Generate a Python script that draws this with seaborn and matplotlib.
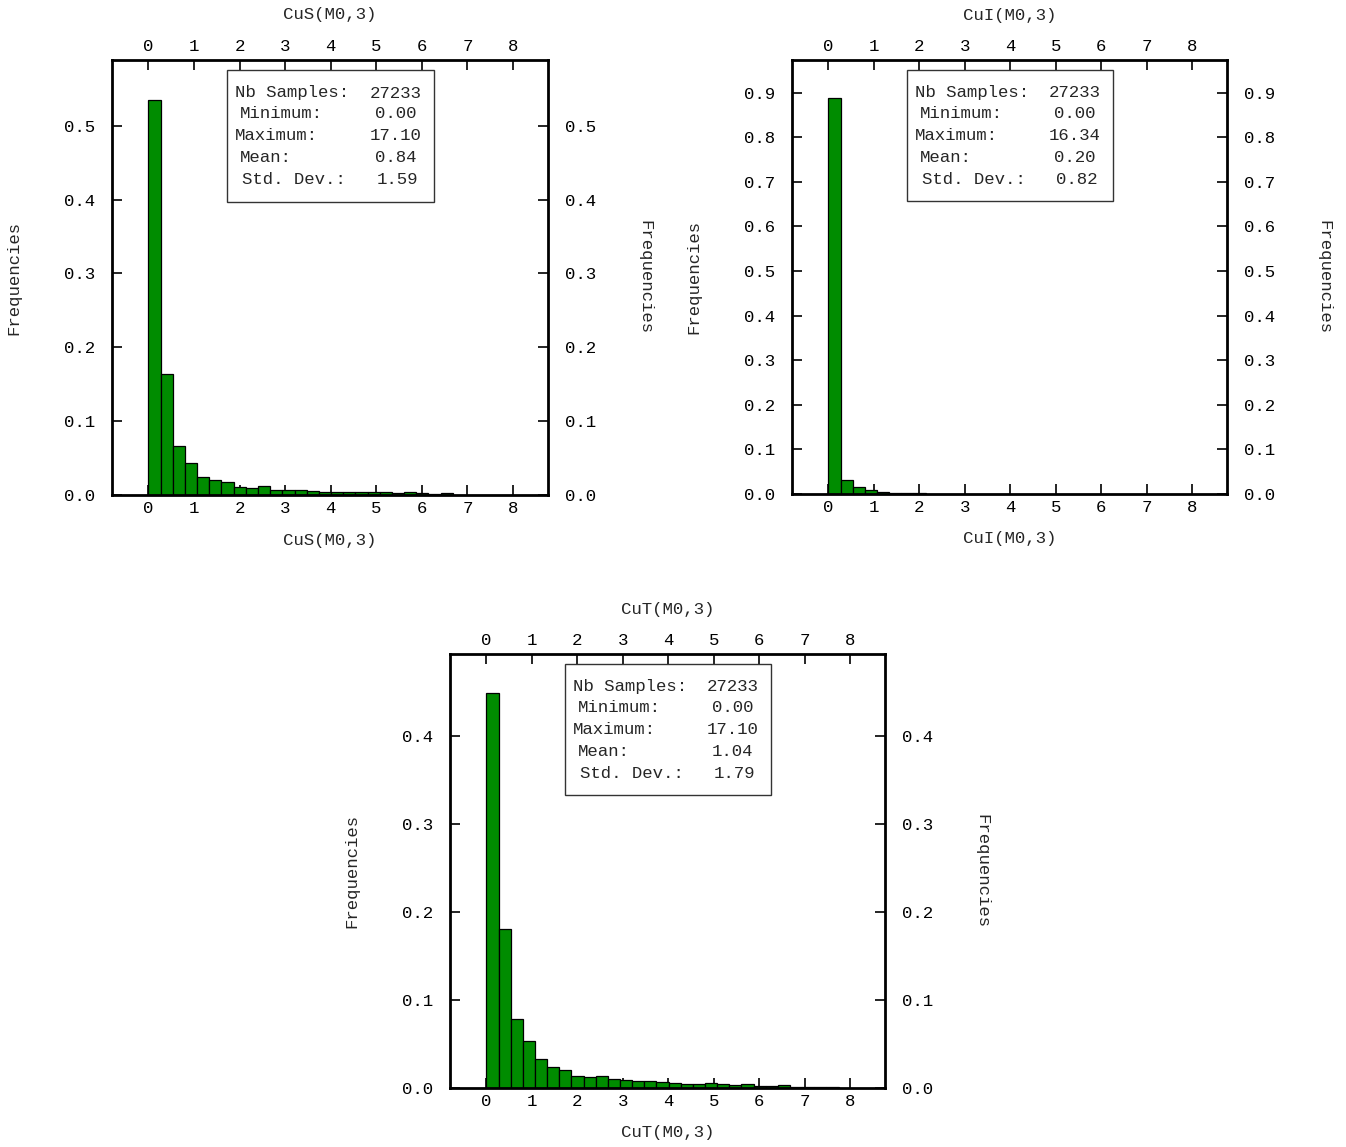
import numpy as np
import pandas as pd
import matplotlib
matplotlib.use("Agg")
import matplotlib.pyplot as plt
from matplotlib.patches import Rectangle
import seaborn as sns

# ---------------- data ----------------
bin_width = 17.10 / 64

cus_freq = [0.535, 0.164, 0.067, 0.044, 0.025, 0.020, 0.017, 0.011, 0.010, 0.012,
            0.007, 0.007, 0.007, 0.0054, 0.004, 0.004, 0.004, 0.004, 0.004, 0.004,
            0.003, 0.004, 0.0027, 0.001, 0.0025]
cui_freq = [0.888, 0.032, 0.016, 0.010, 0.0054, 0.002, 0.002, 0.002]
cut_freq = [0.449, 0.181, 0.078, 0.053, 0.033, 0.024, 0.021, 0.014, 0.013, 0.014,
            0.010, 0.0087, 0.0084, 0.0084, 0.0072, 0.0057, 0.0042, 0.0042, 0.0057, 0.0042,
            0.003, 0.0042, 0.0019, 0.0019, 0.003, 0.0015, 0.0015, 0.0015, 0.0015]

variables = ["CuS(M0,3)", "CuI(M0,3)", "CuT(M0,3)"]
stat_labels = ["Nb Samples:", "Minimum:", "Maximum:", "Mean:", "Std. Dev.:"]
cus_stats = ["27233", "0.00", "17.10", "0.84", "1.59"]
cui_stats = ["27233", "0.00", "16.34", "0.20", "0.82"]
cut_stats = ["27233", "0.00", "17.10", "1.04", "1.79"]

x_ticks = [0, 1, 2, 3, 4, 5, 6, 7, 8]
cus_yticks = [0.0, 0.1, 0.2, 0.3, 0.4, 0.5]
cui_yticks = [0.0, 0.1, 0.2, 0.3, 0.4, 0.5, 0.6, 0.7, 0.8, 0.9]
cut_yticks = [0.0, 0.1, 0.2, 0.3, 0.4]
ylims = [0.589, 0.973, 0.493]

# ---------------- style ----------------
sns.set_style("white")
plt.rcParams['font.family'] = ['Liberation Mono', 'DejaVu Sans Mono']
FS = 12.5
GREEN = "#008C00"

W, H = 1346, 1147
fig = plt.figure(figsize=(W / 100, H / 100), dpi=100)
fig.patch.set_facecolor("white")

def px_axes(x0, y0, x1, y1):
    return fig.add_axes([x0 / W, 1 - y1 / H, (x1 - x0) / W, (y1 - y0) / H])

axes = [px_axes(112, 60, 548, 495), px_axes(792, 60, 1227, 494), px_axes(450, 654, 885, 1088)]
freqs = [cus_freq, cui_freq, cut_freq]
stats = [cus_stats, cui_stats, cut_stats]
yticks = [cus_yticks, cui_yticks, cut_yticks]

for ax, fr, st, yt, yl, var in zip(axes, freqs, stats, yticks, ylims, variables):
    n = len(fr)
    centers = (np.arange(n) + 0.5) * bin_width
    df = pd.DataFrame({"x": centers, "w": fr})
    sns.histplot(data=df, x="x", weights="w", binwidth=bin_width,
                 binrange=(0, n * bin_width), ax=ax, color=GREEN,
                 edgecolor="black", linewidth=0.9, alpha=1.0)
    ax.set_xlim(-0.8, 8.77)
    ax.set_ylim(0, yl)
    ax.set_xticks(x_ticks)
    ax.set_xticklabels([str(t) for t in x_ticks])
    ax.set_yticks(yt)
    ax.set_yticklabels([f"{t:.1f}" for t in yt])
    ax.set_xlabel("")
    ax.set_ylabel("")
    for sp in ax.spines.values():
        sp.set_visible(True)
        sp.set_linewidth(2.0)
        sp.set_color("black")
    ax.tick_params(axis="x", which="both", direction="in", length=7, width=1.2,
                   top=True, bottom=True, labeltop=True, labelbottom=True,
                   labelsize=FS, pad=4, colors="black")
    ax.tick_params(axis="y", which="both", direction="in", length=7, width=1.2,
                   left=True, right=True, labelleft=True, labelright=True,
                   labelsize=FS, pad=12, colors="black")
    ax.grid(False)

    # axis titles
    ax.text(0.5, 1 + 45 / 435, var, transform=ax.transAxes, ha="center", va="center", fontsize=FS)
    ax.text(0.5, -45 / 435, var, transform=ax.transAxes, ha="center", va="center", fontsize=FS)
    ax.text(-98 / 436, 0.5, "Frequencies", transform=ax.transAxes, ha="center", va="center",
            rotation=90, fontsize=FS)
    ax.text(1 + 97 / 436, 0.5, "Frequencies", transform=ax.transAxes, ha="center", va="center",
            rotation=270, fontsize=FS)

    # statistics box
    bx0, bx1, by0, by1 = 0.264, 0.739, 0.674, 0.977
    ax.add_patch(Rectangle((bx0, by0), bx1 - bx0, by1 - by0, transform=ax.transAxes,
                           facecolor="white", edgecolor="#333333", linewidth=1.0, zorder=5))
    line_y = [93, 114, 136, 158, 180]
    lab_off = [8, 13, 8, 13, 15]
    val_off = [13, 18, 13, 18, 16]
    for lab, val, ly, lo, vo in zip(stat_labels, st, line_y, lab_off, val_off):
        yy = 1 - (ly - 60) / 435
        ax.text(bx0 + lo / 436, yy, lab, transform=ax.transAxes, ha="left", va="center",
                fontsize=FS, zorder=6)
        ax.text(bx1 - vo / 436, yy, val, transform=ax.transAxes, ha="right", va="center",
                fontsize=FS, zorder=6)

fig.savefig("out.png", dpi=100, facecolor="white")
